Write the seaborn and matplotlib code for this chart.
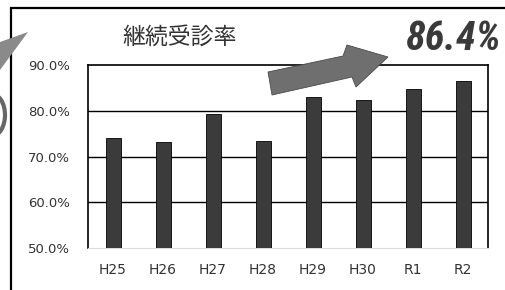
import matplotlib
matplotlib.use("Agg")
import matplotlib.pyplot as plt
import seaborn as sns
import pandas as pd
from matplotlib.patches import Polygon, Rectangle, Arc

# datos
years = ["H25", "H26", "H27", "H28", "H29", "H30", "R1", "R2"]
rates = [74.1, 73.1, 79.3, 73.3, 83.1, 82.4, 84.8, 86.4]
y_ticks = [50, 60, 70, 80, 90]
title = "継続受診率"
highlight = "86.4%"

df = pd.DataFrame({"year": years, "rate": rates})

sns.set_style("white")
plt.rcParams["font.family"] = ["Noto Sans CJK JP", "DejaVu Sans"]

W, H = 505, 290
fig = plt.figure(figsize=(W / 100, H / 100), dpi=100)
ax = fig.add_axes([88 / W, 1 - 248 / H, 400 / W, 183 / H])


def px(pts):
    # pixeles de la imagen -> coordenadas de figura
    return [(x / W, 1 - y / H) for x, y in pts]


sns.barplot(data=df, x="year", y="rate", color="#3b3b3b", width=0.3,
            edgecolor="black", linewidth=0.6, ax=ax, zorder=3)

ax.set_ylim(50, 90)
ax.set_yticks(y_ticks)
ax.set_yticklabels([f"{v:.1f}%" for v in y_ticks], fontsize=9.5, color="#333333",
                   family=["DejaVu Sans"])
ax.set_xticklabels(years, fontsize=10, color="#333333", family=["DejaVu Sans"])
ax.tick_params(axis="y", length=0, pad=13)
ax.tick_params(axis="x", length=0, pad=11)
ax.set_xlabel("")
ax.set_ylabel("")
for v in [60, 70, 80]:
    ax.axhline(v, color="black", linewidth=1.0, zorder=1)
for s in ["left", "right", "top"]:
    ax.spines[s].set_color("black")
    ax.spines[s].set_linewidth(1.2)
ax.spines["bottom"].set_color("#dddddd")
ax.spines["bottom"].set_linewidth(0.8)

# marco exterior
fig.patches.append(Rectangle((11 / W, -0.1), 1.0, 1 - 8 / H + 0.1, transform=fig.transFigure,
                             fill=False, edgecolor="black", linewidth=1.6))

fig.text(122 / W, 1 - 37 / H, title, fontsize=16.5, color="#333333", va="center", ha="left")
fig.text(501 / W, 1 - 39 / H, highlight, fontsize=29, fontweight="black", style="italic",
         color="#3a3a3a", va="center", ha="right",
         family=["Roboto Condensed", "Roboto", "DejaVu Sans"])

# flechas grises
fig.patches.append(Polygon(px([(268, 72), (343, 56), (347, 45), (388, 57), (356, 87),
                               (352, 77), (272, 95)]),
                           closed=True, transform=fig.transFigure,
                           facecolor="#6f6f6f", edgecolor="#4a4a4a", lw=0.6))
fig.patches.append(Polygon(px([(28, 32), (0, 42), (0, 70)]), closed=True,
                           transform=fig.transFigure, facecolor="#8a8a8a", edgecolor="none"))
fig.patches.append(Arc((-8 / W, 1 - 115 / H), 26 / W, 42 / H, theta1=-90, theta2=90,
                       transform=fig.transFigure, color="#666666", lw=3))

fig.savefig("out.png", dpi=100)
